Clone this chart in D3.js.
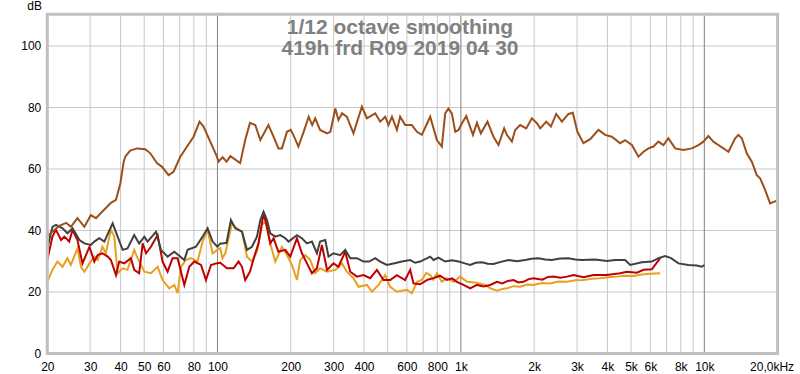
<!DOCTYPE html>
<html>
<head>
<meta charset="utf-8">
<script src="https://cdnjs.cloudflare.com/ajax/libs/d3/7.8.5/d3.min.js"></script>
<style>
body{margin:0;background:#fff;}
text{font-family:"Liberation Sans",Arial,sans-serif;}
</style>
</head>
<body>
<script>
var width=800, height=374;
var plot_left=47.3, plot_right=777.6, plot_top=15.25, plot_bottom=353.5;

var title1="1/12 octave smoothing";
var title2="419h frd R09 2019 04 30";
var xTicks=[20,30,40,50,60,80,100,200,300,400,600,800,1000,2000,3000,4000,5000,6000,8000,10000,20000];
var xTickLabels=["20","30","40","50","60","80","100","200","300","400","600","800","1k","2k","3k","4k","5k","6k","8k","10k","20,0kHz"];
var xGrid=[30,40,50,60,70,80,90,200,300,400,500,600,700,800,900,2000,3000,4000,5000,6000,7000,8000,9000];
var xMajor=[100,1000,10000];
var yTicks=[0,20,40,60,80,100];

// [Hz, dB]
var brown=[[20,38.2],[22.4,41.5],[23.9,42.5],[25,41.2],[26.6,44],[28.4,41.2],[30.2,45],[31.7,44],[33.2,45.7],[34.8,47.3],[36.5,49],[38.3,50],[39.9,55.3],[41.2,62.4],[41.8,64],[43.8,66],[46.7,66.7],[50.5,66.4],[53,65.1],[56.4,61.9],[59.2,60.7],[63,58],[66,59.1],[70.4,64],[75,67.3],[79.8,70.5],[84.4,75.4],[87.7,73.8],[93.4,68.9],[99.5,64],[101,62.4],[105,63.8],[109,62.4],[113,64.2],[124,61.9],[130,69.4],[136,75],[143,74.3],[150,69.4],[162,74.3],[170,70.5],[178,66.7],[184,66.7],[193,72.1],[200,72.7],[205,71.1],[215,67.3],[226,72.1],[237,77],[245,74.3],[252,76.5],[264,72.7],[282,71.6],[291,72.1],[305,79.7],[314,75.9],[325,78.1],[340,77],[362,71.6],[392,80.3],[411,76.5],[445,78.1],[466,75.4],[489,77],[504,74.3],[521,77],[546,72.7],[563,77],[590,74.3],[629,74.3],[660,72.1],[691,71.1],[748,77],[797,69.4],[835,67.3],[862,78.1],[889,79.7],[918,78.1],[948,72.1],[978,72.7],[1010,74.9],[1052,77.2],[1121,71.1],[1164,75],[1208,71.6],[1286,75.4],[1361,70.5],[1427,67.8],[1506,73.2],[1545,71.1],[1620,68.9],[1671,72.7],[1752,74.3],[1855,73.2],[1957,76.5],[2052,74.9],[2118,73.2],[2241,75.4],[2343,73.8],[2463,77.9],[2600,75.4],[2766,77.9],[2883,78.3],[3011,72.1],[3187,68.4],[3398,69.7],[3675,72.7],[3914,71.1],[4169,70.5],[4510,68.4],[4728,69.4],[5039,67.8],[5363,64],[5624,65.6],[5896,66.7],[6180,67.3],[6478,68.9],[6792,67.8],[7118,70],[7587,66.7],[8206,66.2],[8886,66.7],[9457,67.8],[9912,68.9],[10390,70.7],[10893,68.9],[11420,67.8],[11985,66.7],[12565,65.6],[13387,70],[13800,71.1],[14260,70],[14940,65.1],[15670,62.4],[16430,58],[16950,57],[17770,53.2],[18630,48.8],[19850,49.7]];

var gray=[[20,34.2],[21,41.2],[21.7,41.8],[23.1,40.7],[24.2,39.1],[25.4,40.7],[27.1,36.9],[28.4,35.8],[30.2,35.3],[31.2,36.4],[32.7,37.5],[34.3,36.4],[37.1,42.3],[38.9,38],[40.8,33.7],[42.7,34.2],[45.5,38.5],[47.7,35.8],[50.1,38],[51.6,36.4],[55.9,39.6],[58.6,33.7],[62.4,31.5],[66.5,33.1],[73.1,30.4],[75.4,33.7],[81.6,34.7],[86.9,38],[91.1,40.7],[95.5,36.4],[100,34.7],[102.7,35.8],[104.8,35.8],[109,36],[113.6,43.4],[118.3,40.7],[126.1,39.6],[132.2,33.7],[138.6,34.7],[145.3,38],[150,43.4],[154.7,46.1],[159.7,43.4],[164.8,39.1],[172.8,38],[181.1,38.5],[189.9,37.5],[195.9,36.4],[212.1,38.5],[222.3,37.5],[233.1,35.8],[244.4,36.4],[256.2,32.6],[264,36.4],[277.2,36.9],[285.9,31.5],[299.8,32.6],[319.3,32],[334.9,33.7],[351.1,31],[374.1,31],[398.1,29.9],[420,29.9],[445,31],[466,29.9],[496.7,28.8],[528.8,29.3],[572.4,29.9],[619.1,30.4],[649.1,29.5],[680.4,29.9],[748,31.5],[771.8,30.4],[809.2,31.2],[862,29.9],[920,30.3],[978,29.9],[1030,29.4],[1092,28.8],[1150,29.5],[1220,29.7],[1290,29.2],[1361,29.1],[1460,29.8],[1569,30.4],[1700,30],[1837,30.4],[1950,30.8],[2083,31],[2220,30.6],[2364,30.4],[2560,30.9],[2766,31],[2950,30.6],[3141,30.4],[3561,30.6],[3976,30.1],[4302,30.4],[4728,30.4],[4960,28.8],[5540,29.7],[6088,29.9],[6478,31],[6902,31.7],[7300,31],[7828,29.3],[8604,28.8],[9316,28.6],[9768,28.2],[10010,28.8]];

var red=[[20,30.4],[21,38],[21.7,40.2],[22.8,36.9],[23.5,38],[24.6,36.4],[25.4,40.2],[26.6,36.9],[27.9,29.3],[29.8,34.7],[31.2,29.9],[32.2,32],[33.7,32.6],[35.4,31.5],[36.5,30.4],[38.3,25.5],[39.5,29.9],[41.4,29.3],[44.1,31],[45.5,27.2],[47.7,26.1],[49.3,35.8],[50.9,32.6],[53.3,34.7],[56.8,38.5],[59.5,29.9],[62.4,26.6],[65.4,31],[68.6,31],[73.1,22.3],[76.6,28.2],[80.3,29.9],[85.6,28.8],[89.7,23.9],[94.1,28.8],[98.6,29.3],[102.7,29.5],[109.4,27.7],[116.5,27.7],[122.1,29.9],[126.1,28.2],[130,23.9],[136,26.6],[143,32.6],[147.5,35.8],[154.7,45.6],[159.7,41.2],[164.8,35.8],[170,37.5],[178,33.1],[189.9,33.7],[199.1,31.5],[212.1,37.5],[222.3,32.6],[233.1,29.3],[244.4,26.1],[256.2,27.7],[268.6,35.3],[282,27.2],[299.8,29.3],[314,28.2],[334.9,33.1],[351.1,26.6],[374.1,25],[398.1,25.5],[424.2,24.5],[451.9,27.2],[481,23.9],[512.5,23.9],[546,25.5],[590,23.9],[619.1,27.2],[638.7,22.8],[680,22.5],[730,24],[771.8,24.5],[820,25.3],[876,23.9],[920,24.4],[963,23.3],[1025,22.3],[1092,21.2],[1164,22.3],[1240,21.8],[1320,22.3],[1406,23.3],[1480,22.8],[1560,23.6],[1644,23.9],[1720,23.1],[1808,23.3],[1900,24.2],[1987,24.5],[2160,24],[2280,24.9],[2401,25],[2560,24.6],[2725,25],[2901,25.5],[3187,24.8],[3504,25.5],[3976,25.5],[4510,26.1],[4808,26.6],[5285,26.3],[5624,27.2],[6088,27.4],[6281,28.8],[6586,31]];

var orange=[[20,23.3],[21,27.2],[22,29.9],[23.1,28.2],[24.2,31],[25,28.8],[26.6,34.2],[27.5,28.2],[28.4,26.6],[29.8,29.3],[31.2,31.5],[32.2,30.4],[33.7,34.7],[34.8,32.6],[36.5,40.2],[37.7,38],[38.9,26.1],[40.8,27.7],[42.7,27.2],[45.5,33.7],[47,31],[50.1,26.6],[53.3,26.1],[56.8,28.2],[59.5,23.9],[63.4,21.2],[66.5,22.3],[68.6,19.6],[70.8,28.2],[74.2,30.4],[77.8,31],[82.8,29.9],[86.9,36.4],[91.1,40.2],[95.5,32.6],[100,33.7],[102.7,34.2],[104.8,31],[107.7,32.6],[114.7,42.3],[120.3,40.7],[126.1,39.6],[132.2,31.5],[138.6,29.9],[145.3,33.1],[152.3,41.8],[157.2,42.9],[164.8,35.8],[172.8,29.9],[184,34.7],[193,32],[202.3,28.8],[212.1,23.9],[218.8,30.4],[229.4,32],[240.5,30.4],[252,26.1],[264,27.7],[282,26.6],[305,27.2],[325,29.3],[340,26.6],[362,24.5],[379.8,21.7],[411,22.3],[431.1,20.1],[458.8,22.3],[489,25.5],[512.5,21.7],[546,20.1],[600.1,20.7],[629,19.6],[660,23.3],[691,23.9],[720,26.2],[748,25.5],[770,24],[797,26.1],[835,23.3],[876.2,24.5],[932.7,23.3],[993.6,25],[1059,23.3],[1164,23],[1259,22.3],[1320,21.2],[1406,20.4],[1480,21],[1545,21.2],[1650,21.9],[1752,21.7],[1870,22.4],[1987,22.3],[2150,22.9],[2327,22.8],[2520,23.4],[2725,23.3],[2950,23.8],[3187,23.9],[3450,24.3],[3733,24.5],[4050,24.8],[4372,25],[4750,25.3],[5117,25.2],[5550,25.7],[5990,25.9],[6586,26.1]];

var svg=d3.select("body").append("svg").attr("width",width).attr("height",height);

var x=d3.scaleLog().domain([20,20000]).range([plot_left,plot_right]);
var y=d3.scaleLinear().domain([0,110]).range([plot_bottom,plot_top]);

// grid
svg.append("g").selectAll("line").data(xGrid).enter().append("line")
	.attr("x1",function(d){return x(d);}).attr("x2",function(d){return x(d);})
	.attr("y1",y(110)).attr("y2",y(0)).style("stroke","#c8c8c8").style("stroke-width",1);
svg.append("g").selectAll("line").data(yTicks.slice(1)).enter().append("line")
	.attr("x1",plot_left).attr("x2",plot_right).attr("y1",function(d){return y(d);}).attr("y2",function(d){return y(d);})
	.style("stroke","#c8c8c8").style("stroke-width",1);
svg.append("g").selectAll("line").data(xMajor).enter().append("line")
	.attr("x1",function(d){return x(d);}).attr("x2",function(d){return x(d);})
	.attr("y1",y(110)).attr("y2",y(0)).style("stroke","#808080").style("stroke-width",1);

// title
svg.append("text").attr("x",400).attr("y",34).attr("text-anchor","middle").style("font-size","21px").style("font-weight","bold").style("fill","#808080").text(title1);
svg.append("text").attr("x",400).attr("y",55).attr("text-anchor","middle").style("font-size","21px").style("font-weight","bold").style("fill","#808080").text(title2);

// curves
var line=d3.line().x(function(d){return x(d[0]);}).y(function(d){return y(d[1]);});
svg.append("path").datum(orange).attr("d",line).style("fill","none").style("stroke","#e8a020").style("stroke-width",2);
svg.append("path").datum(red).attr("d",line).style("fill","none").style("stroke","#c00000").style("stroke-width",2);
svg.append("path").datum(gray).attr("d",line).style("fill","none").style("stroke","#404040").style("stroke-width",2);
svg.append("path").datum(brown).attr("d",line).style("fill","none").style("stroke","#9c4f1a").style("stroke-width",2);

// frame
svg.append("rect").attr("x",plot_left).attr("y",y(110)-1).attr("width",plot_right-plot_left).attr("height",y(0)-y(110)+1)
	.style("fill","none").style("stroke","#c0c0c0").style("stroke-width",3);

// axes
var xaxis=d3.axisBottom(x).tickValues(xTicks).tickSize(0).tickPadding(0)
	.tickFormat(function(d,i){return xTickLabels[i];});
var gx=svg.append("g").attr("transform","translate(0,371)").call(xaxis);
gx.select(".domain").remove();
gx.selectAll("text").attr("dy",0).style("font-size","12px").style("font-family","Liberation Sans, Arial, sans-serif").style("fill","#000");
gx.selectAll("text").filter(function(d){return d==20000;}).attr("text-anchor","end").attr("dx",16);

var yaxis=d3.axisLeft(y).tickValues(yTicks).tickSize(0).tickPadding(6);
var gy=svg.append("g").attr("transform","translate("+plot_left+",0)").call(yaxis);
gy.select(".domain").remove();
gy.selectAll("text").style("font-size","12px").style("font-family","Liberation Sans, Arial, sans-serif").style("fill","#000");

svg.append("text").attr("x",42).attr("y",10).attr("text-anchor","end").style("font-size","12px").text("dB");
</script>
</body>
</html>
